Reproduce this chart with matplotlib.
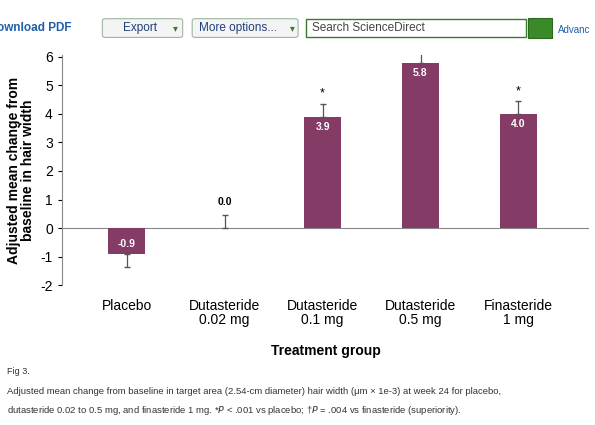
import matplotlib.pyplot as plt
from matplotlib.patches import FancyBboxPatch, Rectangle

plt.rcParams["font.family"] = ["Liberation Sans", "DejaVu Sans"]
plt.rcParams["axes.unicode_minus"] = False

groups = ["Placebo", "Dutasteride\n0.02 mg", "Dutasteride\n0.1 mg", "Dutasteride\n0.5 mg", "Finasteride\n1 mg"]
means = [-0.9, 0.0, 3.9, 5.8, 4.0]
errors = [0.45, 0.45, 0.45, 0.42, 0.45]
marks = ["", "", "*", "", "*"]

bar_color = "#843C66"

fig = plt.figure(figsize=(5.95, 4.25), dpi=100)
fig.patch.set_facecolor("white")

ax = fig.add_axes([0.104, 0.329, 0.886, 0.542])
x = list(range(len(groups)))
ax.bar(x, means, width=0.38, color=bar_color, zorder=2)
for i, (m, e) in enumerate(zip(means, errors)):
    if m < 0:
        ax.errorbar(i, m, yerr=[[e], [0]], color="#555555", capsize=2.5, lw=0.9, zorder=3)
    else:
        ax.errorbar(i, m, yerr=[[0], [e]], color="#555555", capsize=2.5, lw=0.9, zorder=3)
    if m == 0:
        ax.text(i, m + 0.9, f"{m:.1f}", ha="center", va="center", fontsize=7.5, fontweight="bold")
    else:
        ax.text(i, m - 0.35 if m > 0 else m + 0.35, f"{m:.1f}", ha="center", va="center",
                fontsize=7.5, fontweight="bold", color="white", zorder=4)
    if marks[i]:
        ax.text(i, m + e + 0.35, marks[i], ha="center", va="center", fontsize=9)

ax.axhline(0, color="#888888", lw=0.8, zorder=1)
ax.set_xlim(-0.66, 4.72)
ax.set_ylim(-2, 6.07)
ax.set_yticks(range(-2, 7))
ax.set_xticks(x)
ax.set_xticklabels(groups, fontsize=10, linespacing=1.0)
ax.tick_params(axis="x", length=0, pad=10)
ax.tick_params(axis="y", labelsize=10, length=3)
for s in ["top", "right", "bottom"]:
    ax.spines[s].set_visible(False)
ax.spines["left"].set_color("#888888")
ax.set_ylabel("Adjusted mean change from\nbaseline in hair width", fontsize=10, fontweight="bold",
              linespacing=1.0, labelpad=4)
ax.set_xlabel("Treatment group", fontsize=10, fontweight="bold", labelpad=12)

# toolbar strip of the web page
fig.text(-0.005, 0.934, "ownload PDF", fontsize=8.5, color="#1F5FA8", fontweight="bold", va="center")
for (x0, w, label) in [(0.172, 0.135, "Export"), (0.323, 0.178, "More options...")]:
    fig.patches.append(FancyBboxPatch((x0, 0.912), w, 0.044, boxstyle="round,pad=0,rounding_size=0.005",
                                      transform=fig.transFigure, fc="#F4F4F4", ec="#9DB7A0", lw=0.8))
    fig.text(x0 + 0.035 if label == "Export" else x0 + 0.012, 0.934, label, fontsize=8.5, color="#1F3F7A", va="center")
fig.text(0.29, 0.934, "▾", fontsize=7, color="#3A7A2A", va="center")
fig.text(0.487, 0.934, "▾", fontsize=7, color="#3A7A2A", va="center")
fig.patches.append(Rectangle((0.514, 0.912), 0.37, 0.044, transform=fig.transFigure,
                             fc="white", ec="#3A7A2A", lw=1))
fig.text(0.525, 0.934, "Search ScienceDirect", fontsize=8.5, color="#444444", va="center")
fig.patches.append(Rectangle((0.888, 0.91), 0.04, 0.048, transform=fig.transFigure,
                             fc="#3A8A2A", ec="#2A6A1A", lw=0.8))
fig.text(0.938, 0.93, "Advanc", fontsize=7, color="#1F5FA8", va="center")

fig.text(0.012, 0.12, "Fig 3.", fontsize=6.5, color="#333333")
fig.text(0.012, 0.072, "Adjusted mean change from baseline in target area (2.54-cm diameter) hair width (μm × 1e-3) at week 24 for placebo,",
         fontsize=6.8, color="#333333")
fig.text(0.012, 0.028, "dutasteride 0.02 to 0.5 mg, and finasteride 1 mg. *$P$ < .001 vs placebo; †$P$ = .004 vs finasteride (superiority).",
         fontsize=6.8, color="#333333")

fig.savefig("out.png", dpi=100)
